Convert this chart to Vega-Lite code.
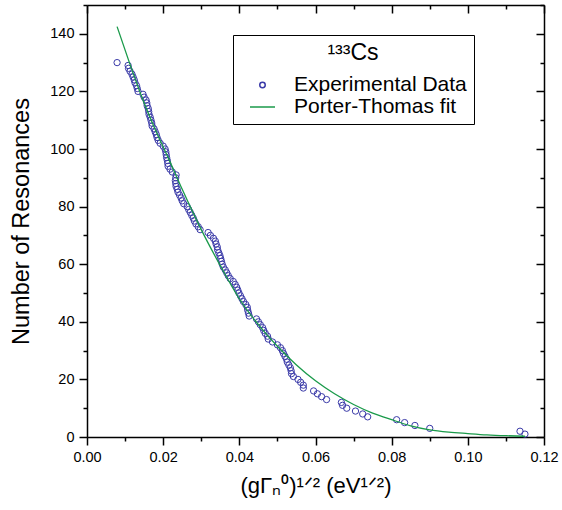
{
  "$schema": "https://vega.github.io/schema/vega-lite/v6.json",
  "autosize": "none",
  "width": 457,
  "height": 432,
  "padding": {"left": 87, "top": 5, "right": 18, "bottom": 73},
  "background": "white",
  "config": {
    "view": {"stroke": null},
    "font": "Liberation Sans",
    "axis": {"grid": false, "domainColor": "black", "domainWidth": 1.5, "tickColor": "black", "tickWidth": 1.5, "labelColor": "black", "titleColor": "black", "labelFont": "Liberation Sans", "titleFont": "Liberation Sans", "titleFontWeight": "normal", "labelFontSize": 14.5, "titleFontSize": 22}
  },
  "datasets": {
    "pts": [
      {"x": 0.0079, "n": 130, "series": "Experimental Data"},
      {"x": 0.0108, "n": 129, "series": "Experimental Data"},
      {"x": 0.0109, "n": 128, "series": "Experimental Data"},
      {"x": 0.0113, "n": 127, "series": "Experimental Data"},
      {"x": 0.0118, "n": 126, "series": "Experimental Data"},
      {"x": 0.0121, "n": 125, "series": "Experimental Data"},
      {"x": 0.0124, "n": 124, "series": "Experimental Data"},
      {"x": 0.0126, "n": 123, "series": "Experimental Data"},
      {"x": 0.0130, "n": 122, "series": "Experimental Data"},
      {"x": 0.0132, "n": 121, "series": "Experimental Data"},
      {"x": 0.0134, "n": 120, "series": "Experimental Data"},
      {"x": 0.0147, "n": 119, "series": "Experimental Data"},
      {"x": 0.0150, "n": 118, "series": "Experimental Data"},
      {"x": 0.0155, "n": 117, "series": "Experimental Data"},
      {"x": 0.0157, "n": 116, "series": "Experimental Data"},
      {"x": 0.0158, "n": 115, "series": "Experimental Data"},
      {"x": 0.0161, "n": 114, "series": "Experimental Data"},
      {"x": 0.0162, "n": 113, "series": "Experimental Data"},
      {"x": 0.0163, "n": 112, "series": "Experimental Data"},
      {"x": 0.0166, "n": 111, "series": "Experimental Data"},
      {"x": 0.0168, "n": 110, "series": "Experimental Data"},
      {"x": 0.0170, "n": 109, "series": "Experimental Data"},
      {"x": 0.0171, "n": 108, "series": "Experimental Data"},
      {"x": 0.0176, "n": 107, "series": "Experimental Data"},
      {"x": 0.0179, "n": 106, "series": "Experimental Data"},
      {"x": 0.0182, "n": 105, "series": "Experimental Data"},
      {"x": 0.0184, "n": 104, "series": "Experimental Data"},
      {"x": 0.0187, "n": 103, "series": "Experimental Data"},
      {"x": 0.0192, "n": 102, "series": "Experimental Data"},
      {"x": 0.0200, "n": 101, "series": "Experimental Data"},
      {"x": 0.0205, "n": 100, "series": "Experimental Data"},
      {"x": 0.0207, "n": 99, "series": "Experimental Data"},
      {"x": 0.0208, "n": 98, "series": "Experimental Data"},
      {"x": 0.0209, "n": 97, "series": "Experimental Data"},
      {"x": 0.0211, "n": 96, "series": "Experimental Data"},
      {"x": 0.0212, "n": 95, "series": "Experimental Data"},
      {"x": 0.0213, "n": 94, "series": "Experimental Data"},
      {"x": 0.0218, "n": 93, "series": "Experimental Data"},
      {"x": 0.0224, "n": 92, "series": "Experimental Data"},
      {"x": 0.0234, "n": 91, "series": "Experimental Data"},
      {"x": 0.0233, "n": 90, "series": "Experimental Data"},
      {"x": 0.0232, "n": 89, "series": "Experimental Data"},
      {"x": 0.0233, "n": 88, "series": "Experimental Data"},
      {"x": 0.0234, "n": 87, "series": "Experimental Data"},
      {"x": 0.0237, "n": 86, "series": "Experimental Data"},
      {"x": 0.0239, "n": 85, "series": "Experimental Data"},
      {"x": 0.0243, "n": 84, "series": "Experimental Data"},
      {"x": 0.0247, "n": 83, "series": "Experimental Data"},
      {"x": 0.0250, "n": 82, "series": "Experimental Data"},
      {"x": 0.0254, "n": 81, "series": "Experimental Data"},
      {"x": 0.0263, "n": 80, "series": "Experimental Data"},
      {"x": 0.0267, "n": 79, "series": "Experimental Data"},
      {"x": 0.0271, "n": 78, "series": "Experimental Data"},
      {"x": 0.0275, "n": 77, "series": "Experimental Data"},
      {"x": 0.0279, "n": 76, "series": "Experimental Data"},
      {"x": 0.0282, "n": 75, "series": "Experimental Data"},
      {"x": 0.0286, "n": 74, "series": "Experimental Data"},
      {"x": 0.0292, "n": 73, "series": "Experimental Data"},
      {"x": 0.0297, "n": 72, "series": "Experimental Data"},
      {"x": 0.0318, "n": 71, "series": "Experimental Data"},
      {"x": 0.0324, "n": 70, "series": "Experimental Data"},
      {"x": 0.0332, "n": 69, "series": "Experimental Data"},
      {"x": 0.0337, "n": 68, "series": "Experimental Data"},
      {"x": 0.0339, "n": 67, "series": "Experimental Data"},
      {"x": 0.0342, "n": 66, "series": "Experimental Data"},
      {"x": 0.0343, "n": 65, "series": "Experimental Data"},
      {"x": 0.0346, "n": 64, "series": "Experimental Data"},
      {"x": 0.0349, "n": 63, "series": "Experimental Data"},
      {"x": 0.0351, "n": 62, "series": "Experimental Data"},
      {"x": 0.0353, "n": 61, "series": "Experimental Data"},
      {"x": 0.0355, "n": 60, "series": "Experimental Data"},
      {"x": 0.0358, "n": 59, "series": "Experimental Data"},
      {"x": 0.0363, "n": 58, "series": "Experimental Data"},
      {"x": 0.0367, "n": 57, "series": "Experimental Data"},
      {"x": 0.0371, "n": 56, "series": "Experimental Data"},
      {"x": 0.0376, "n": 55, "series": "Experimental Data"},
      {"x": 0.0384, "n": 54, "series": "Experimental Data"},
      {"x": 0.0389, "n": 53, "series": "Experimental Data"},
      {"x": 0.0393, "n": 52, "series": "Experimental Data"},
      {"x": 0.0396, "n": 51, "series": "Experimental Data"},
      {"x": 0.0399, "n": 50, "series": "Experimental Data"},
      {"x": 0.0403, "n": 49, "series": "Experimental Data"},
      {"x": 0.0407, "n": 48, "series": "Experimental Data"},
      {"x": 0.0411, "n": 47, "series": "Experimental Data"},
      {"x": 0.0417, "n": 46, "series": "Experimental Data"},
      {"x": 0.0421, "n": 45, "series": "Experimental Data"},
      {"x": 0.0422, "n": 44, "series": "Experimental Data"},
      {"x": 0.0424, "n": 43, "series": "Experimental Data"},
      {"x": 0.0426, "n": 42, "series": "Experimental Data"},
      {"x": 0.0445, "n": 41, "series": "Experimental Data"},
      {"x": 0.0450, "n": 40, "series": "Experimental Data"},
      {"x": 0.0455, "n": 39, "series": "Experimental Data"},
      {"x": 0.0461, "n": 38, "series": "Experimental Data"},
      {"x": 0.0464, "n": 37, "series": "Experimental Data"},
      {"x": 0.0468, "n": 36, "series": "Experimental Data"},
      {"x": 0.0474, "n": 35, "series": "Experimental Data"},
      {"x": 0.0476, "n": 34, "series": "Experimental Data"},
      {"x": 0.0487, "n": 33, "series": "Experimental Data"},
      {"x": 0.0500, "n": 32, "series": "Experimental Data"},
      {"x": 0.0508, "n": 31, "series": "Experimental Data"},
      {"x": 0.0513, "n": 30, "series": "Experimental Data"},
      {"x": 0.0516, "n": 29, "series": "Experimental Data"},
      {"x": 0.0520, "n": 28, "series": "Experimental Data"},
      {"x": 0.0524, "n": 27, "series": "Experimental Data"},
      {"x": 0.0526, "n": 26, "series": "Experimental Data"},
      {"x": 0.0530, "n": 25, "series": "Experimental Data"},
      {"x": 0.0534, "n": 24, "series": "Experimental Data"},
      {"x": 0.0536, "n": 23, "series": "Experimental Data"},
      {"x": 0.0537, "n": 22, "series": "Experimental Data"},
      {"x": 0.0542, "n": 21, "series": "Experimental Data"},
      {"x": 0.0554, "n": 20, "series": "Experimental Data"},
      {"x": 0.0561, "n": 19, "series": "Experimental Data"},
      {"x": 0.0568, "n": 18, "series": "Experimental Data"},
      {"x": 0.0568, "n": 17, "series": "Experimental Data"},
      {"x": 0.0595, "n": 16, "series": "Experimental Data"},
      {"x": 0.0605, "n": 15, "series": "Experimental Data"},
      {"x": 0.0616, "n": 14, "series": "Experimental Data"},
      {"x": 0.0629, "n": 13, "series": "Experimental Data"},
      {"x": 0.0668, "n": 12, "series": "Experimental Data"},
      {"x": 0.0671, "n": 11, "series": "Experimental Data"},
      {"x": 0.0682, "n": 10, "series": "Experimental Data"},
      {"x": 0.0705, "n": 9, "series": "Experimental Data"},
      {"x": 0.0724, "n": 8, "series": "Experimental Data"},
      {"x": 0.0737, "n": 7, "series": "Experimental Data"},
      {"x": 0.0813, "n": 6, "series": "Experimental Data"},
      {"x": 0.0834, "n": 5, "series": "Experimental Data"},
      {"x": 0.0861, "n": 4, "series": "Experimental Data"},
      {"x": 0.0900, "n": 3, "series": "Experimental Data"},
      {"x": 0.1137, "n": 2, "series": "Experimental Data"},
      {"x": 0.1150, "n": 1, "series": "Experimental Data"}
    ],
    "fit": [
      {"x": 0.0079, "n": 142.5},
      {"x": 0.0110, "n": 130.5},
      {"x": 0.0147, "n": 117},
      {"x": 0.0180, "n": 106.5},
      {"x": 0.0213, "n": 97},
      {"x": 0.0250, "n": 86},
      {"x": 0.0300, "n": 72},
      {"x": 0.0350, "n": 59.5},
      {"x": 0.0400, "n": 48},
      {"x": 0.0450, "n": 39},
      {"x": 0.0500, "n": 31.5},
      {"x": 0.0550, "n": 25},
      {"x": 0.0600, "n": 19.5},
      {"x": 0.0650, "n": 15},
      {"x": 0.0700, "n": 11.3},
      {"x": 0.0750, "n": 8.3},
      {"x": 0.0800, "n": 6},
      {"x": 0.0850, "n": 3.9},
      {"x": 0.0900, "n": 2.5},
      {"x": 0.0950, "n": 1.7},
      {"x": 0.1000, "n": 1.2},
      {"x": 0.1050, "n": 0.75},
      {"x": 0.1100, "n": 0.45},
      {"x": 0.1150, "n": 0.25}
    ]
  },
  "layer": [
    {
      "data": {"name": "pts"},
      "mark": {"type": "point", "filled": false, "size": 40, "strokeWidth": 1, "opacity": 1},
      "encoding": {
        "x": {
          "field": "x", "type": "quantitative",
          "scale": {"domain": [0, 0.12], "nice": false, "zero": false},
          "axis": {
            "orient": "bottom",
            "values": [0, 0.01, 0.02, 0.03, 0.04, 0.05, 0.06, 0.07, 0.08, 0.09, 0.1, 0.11, 0.12],
            "format": ".2f",
            "labelExpr": "abs(datum.value * 50 - round(datum.value * 50)) < 0.001 ? datum.label : ''",
            "tickSize": {"condition": {"test": "abs(datum.value * 50 - round(datum.value * 50)) < 0.001", "value": 8}, "value": 4},
            "labelPadding": 5,
            "labelOverlap": false,
            "labelFlush": false,
            "title": "(gΓₙ⁰)¹ᐟ² (eV¹ᐟ²)",
            "titlePadding": 12
          }
        },
        "y": {
          "field": "n", "type": "quantitative",
          "scale": {"domain": [0, 150], "nice": false},
          "axis": {
            "orient": "left",
            "values": [0, 10, 20, 30, 40, 50, 60, 70, 80, 90, 100, 110, 120, 130, 140, 150],
            "labelExpr": "datum.value % 20 === 0 ? datum.label : ''",
            "tickSize": {"condition": {"test": "datum.value % 20 === 0", "value": 8}, "value": 4},
            "labelPadding": 5,
            "labelOverlap": false,
            "labelFlush": false,
            "title": "Number of Resonances",
            "titleFontSize": 23.5,
            "titlePadding": 16
          }
        },
        "color": {
          "field": "series", "type": "nominal",
          "scale": {"domain": ["Experimental Data", "Porter-Thomas fit"], "range": ["#3a3aa8", "#1a9a4a"]},
          "legend": {
            "orient": "none", "legendX": 146, "legendY": 30,
            "title": "¹³³Cs", "titleFont": "Liberation Sans", "titleFontSize": 23, "titleFontWeight": "normal", "titleColor": "black",
            "titleAnchor": "middle", "titlePadding": 10, "titleLimit": 300,
            "labelFont": "Liberation Sans", "labelFontSize": 21, "labelColor": "black", "labelOffset": 21, "labelLimit": 300,
            "strokeColor": "black", "padding": 7, "symbolOffset": 12, "rowPadding": 1, "clipHeight": 20,
            "symbolStrokeWidth": 1.5,
            "encoding": {"symbols": {"size": {"value": {"expr": "datum.value === 'Porter-Thomas fit' ? 625 : 30"}}}}
          }
        },
        "shape": {
          "field": "series", "type": "nominal",
          "scale": {"domain": ["Experimental Data", "Porter-Thomas fit"], "range": ["circle", "stroke"]},
          "legend": {"title": "¹³³Cs"}
        }
      }
    },
    {
      "data": {"name": "fit"},
      "mark": {"type": "line", "color": "#1a9a4a", "strokeWidth": 1.3, "interpolate": "monotone"},
      "encoding": {
        "x": {
          "field": "x", "type": "quantitative",
          "axis": {
            "orient": "top",
            "values": [0, 0.01, 0.02, 0.03, 0.04, 0.05, 0.06, 0.07, 0.08, 0.09, 0.1, 0.11, 0.12],
            "labels": false, "title": null,
            "tickSize": {"condition": {"test": "abs(datum.value * 50 - round(datum.value * 50)) < 0.001", "value": -8}, "value": -4}
          }
        },
        "y": {
          "field": "n", "type": "quantitative",
          "axis": {
            "orient": "right",
            "values": [0, 10, 20, 30, 40, 50, 60, 70, 80, 90, 100, 110, 120, 130, 140, 150],
            "labels": false, "title": null,
            "tickSize": {"condition": {"test": "datum.value % 20 === 0", "value": -8}, "value": -4}
          }
        }
      }
    }
  ],
  "resolve": {"axis": {"x": "independent", "y": "independent"}}
}
